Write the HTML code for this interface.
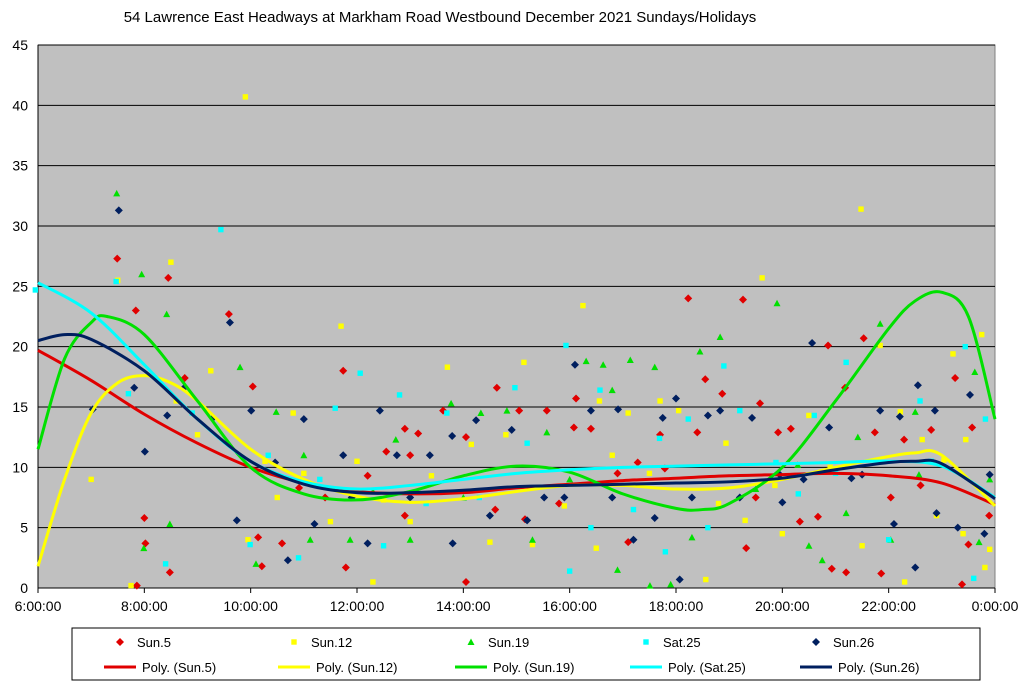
<!DOCTYPE html>
<html><head><meta charset="utf-8"><style>
body{margin:0;background:#fff;font-family:"Liberation Sans",Arial,sans-serif}
svg{display:block}
</style></head><body>
<svg id="chart" width="1024" height="686" viewBox="0 0 1024 686">
<text x="440" y="22" text-anchor="middle" font-size="15">54 Lawrence East Headways at Markham Road Westbound December 2021  Sundays/Holidays</text>
<rect x="38" y="45" width="957" height="543" fill="#c0c0c0" stroke="#808080"/>
<g id="grid"></g><g id="axes"></g><g id="points"></g><g id="lines"></g>
<rect x="72" y="628" width="908" height="52" fill="#fff" stroke="#000"/>
<g id="legend"></g>
</svg>
<script>
const yTicks=[0,5,10,15,20,25,30,35,40,45];
const xTicks=[6,8,10,12,14,16,18,20,22,24];
const xTickLabels=["6:00:00","8:00:00","10:00:00","12:00:00","14:00:00","16:00:00","18:00:00","20:00:00","22:00:00","0:00:00"];
const seriesNames=["Sun.5","Sun.12","Sun.19","Sat.25","Sun.26"];
const sun5=[[7.49,27.3],[7.84,23],[8.0,5.8],[8.02,3.7],[7.86,0.2],[8.45,25.7],[8.48,1.3],[8.76,17.4],[9.59,22.7],[10.04,16.7],[10.14,4.2],[10.21,1.8],[10.59,3.7],[10.91,8.3],[11.74,18],[11.79,1.7],[12.55,11.3],[12.9,13.2],[13.15,12.8],[13.62,14.7],[14.05,12.5],[14.05,0.5],[14.63,16.6],[15.05,14.7],[15.16,5.7],[15.57,14.7],[16.08,13.3],[16.12,15.7],[16.4,13.2],[17.28,10.4],[17.7,12.7],[17.79,9.9],[18.23,24],[18.4,12.9],[18.55,17.3],[18.87,16.1],[19.26,23.9],[19.32,3.3],[19.58,15.3],[19.92,12.9],[20.16,13.2],[20.33,5.5],[20.67,5.9],[20.86,20.1],[20.93,1.6],[21.18,16.6],[21.2,1.3],[21.53,20.7],[21.74,12.9],[21.86,1.2],[22.04,7.5],[22.29,12.3],[22.8,13.1],[23.25,17.4],[23.38,0.3],[23.57,13.3],[23.89,6.0],[12.2,9.3],[13.0,11],[16.9,9.5],[17.1,3.8],[15.8,7],[11.4,7.5],[12.9,6],[14.6,6.5],[19.5,7.5],[22.6,8.5],[23.5,3.6]];
const sun12=[[7.0,9],[7.5,25.5],[7.75,0.2],[8.5,27],[9.25,18],[9.9,40.7],[9.95,4],[10.27,10.5],[11.7,21.7],[12.3,0.5],[13.4,9.3],[13.7,18.3],[14.15,11.9],[15.14,18.7],[16.25,23.4],[16.56,15.5],[17.7,15.5],[18.05,14.7],[18.56,0.7],[18.94,12.0],[19.62,25.7],[19.86,8.5],[20.5,14.3],[21.48,31.4],[21.84,20.1],[22.22,14.6],[22.63,12.3],[23.04,10.6],[23.21,19.4],[23.45,12.3],[23.75,21],[23.81,1.7],[8.6,15.5],[9.0,12.7],[10.5,7.5],[11.0,9.5],[11.5,5.5],[12.5,7.3],[13.0,5.5],[14.5,3.8],[15.3,3.6],[15.9,6.8],[16.5,3.3],[17.1,14.5],[17.5,9.5],[18.8,7],[19.3,5.6],[20.0,4.5],[20.9,10],[21.5,3.5],[22.3,0.5],[22.9,6],[23.4,4.5],[23.9,3.2],[10.8,14.5],[12.0,10.5],[14.8,12.7],[16.8,11]];
const sun19=[[7.48,32.7],[7.95,26],[7.99,3.3],[8.42,22.7],[8.48,5.3],[9.8,18.3],[10.48,14.6],[11.12,4],[11.87,4],[12.73,12.3],[13.77,15.3],[14.33,14.5],[14.82,14.7],[15.57,12.9],[16.31,18.8],[16.63,18.5],[16.8,16.4],[17.14,18.9],[17.6,18.3],[17.51,0.2],[18.45,19.6],[18.83,20.8],[19.9,23.6],[20.29,10.2],[20.75,2.3],[21.42,12.5],[21.84,21.9],[22.04,4],[22.57,9.4],[23.62,17.9],[23.7,3.8],[10.1,2],[11.0,11],[12.3,8],[13.0,4],[14.0,7.5],[15.3,4],[16.0,9],[16.9,1.5],[17.9,0.3],[18.3,4.2],[19.5,8.2],[20.5,3.5],[21.2,6.2],[22.5,14.6],[23.9,9]];
const sat25=[[5.95,24.7],[7.47,25.4],[7.7,16.1],[9.44,29.7],[9.99,3.6],[10.33,11],[11.59,14.9],[12.06,17.8],[12.8,16],[13.69,14.5],[14.97,16.6],[15.93,20.1],[16.57,16.4],[17.69,12.4],[18.23,14],[18.9,18.4],[19.88,10.4],[20.6,14.3],[21.2,18.7],[22.59,15.5],[23.44,20],[23.82,14],[8.4,2],[8.9,14.5],[10.9,2.5],[11.3,9],[12.5,3.5],[13.3,7],[14.3,7.5],[15.2,12],[16.0,1.4],[16.4,5],[17.2,6.5],[17.8,3],[18.6,5],[19.2,14.7],[20.3,7.8],[21.0,9.5],[22.0,4],[22.8,10.5],[23.6,0.8]];
const sun26=[[7.03,14.8],[7.52,31.3],[7.81,16.6],[8.01,11.3],[8.43,14.3],[8.75,16.6],[9.29,14.1],[9.61,22],[9.74,5.6],[10.01,14.7],[10.46,10.4],[11.0,14],[11.74,11.0],[12.43,14.7],[12.75,11.0],[13.37,11.0],[13.79,12.6],[14.24,13.9],[14.91,13.1],[15.52,7.5],[16.1,18.5],[16.4,14.7],[16.91,14.8],[17.75,14.1],[18.07,0.7],[18.6,14.3],[18.83,14.7],[19.43,14.1],[19.95,9.4],[20.56,20.3],[20.88,13.3],[21.84,14.7],[22.21,14.2],[22.55,16.8],[22.87,14.7],[23.53,16],[23.9,9.4],[10.7,2.3],[11.2,5.3],[11.9,7.5],[12.2,3.7],[13.0,7.5],[13.8,3.7],[14.5,6],[15.2,5.6],[15.9,7.5],[16.8,7.5],[17.2,4],[17.6,5.8],[18.0,15.7],[18.3,7.5],[19.2,7.5],[20.0,7.1],[20.4,9],[21.3,9.1],[21.5,9.4],[22.1,5.3],[22.5,1.7],[22.9,6.2],[23.3,5],[23.8,4.5]];
const trend5=[[6,19.7],[7,17.2],[8,14.4],[9,12.0],[10,10.0],[11,8.7],[12,8.0],[13,7.8],[14,7.9],[15,8.3],[16,8.6],[17,8.9],[18,9.1],[19,9.3],[20,9.4],[21,9.5],[22,9.3],[23,8.7],[24,6.9]];
const trend12=[[6,1.8],[6.5,9],[7,14.5],[7.5,17],[8,17.6],[8.5,17],[9,15.5],[10,11.5],[11,9],[12,7.6],[13,7.1],[14,7.4],[15,8.0],[16,8.5],[17,8.5],[18,8.2],[19,8.3],[20,9],[21,10],[22,10.9],[22.5,11.2],[23,11],[24,6.8]];
const trend19=[[6,11.5],[6.5,19],[7,22],[7.3,22.5],[8,21],[9,15.5],[10,10],[11,7.8],[12,7.3],[13,8.0],[14,9.3],[15,10.1],[16,9.6],[17,7.8],[18,6.6],[18.5,6.5],[19,7],[20,10],[21,15.5],[22,21.5],[22.5,23.8],[23,24.5],[23.5,22.5],[24,14]];
const trend25=[[6,25.3],[7,22.8],[8,18.5],[9,14],[10,10.5],[11,8.8],[12,8.2],[13,8.5],[14,9.0],[15,9.5],[16,9.8],[17,10.0],[18,10.1],[19,10.2],[20,10.3],[21,10.4],[22,10.5],[23,10.1],[24,7.5]];
const trend26=[[6,20.5],[6.5,21],[7,20.6],[8,18],[9,14],[10,10.5],[11,8.6],[12,7.9],[13,7.9],[14,8.1],[15,8.4],[16,8.5],[17,8.6],[18,8.7],[19,8.8],[20,9.1],[21,9.8],[22,10.4],[22.5,10.5],[23,10.3],[24,7.4]];

const NS="http://www.w3.org/2000/svg";
const X=h=>38+(h-6)*(957/18);
const Y=v=>588-v*(543/45);
function mk(tag,attrs,parent){const e=document.createElementNS(NS,tag);for(const k in attrs)e.setAttribute(k,attrs[k]);parent.appendChild(e);return e;}
const grid=document.getElementById('grid'),axes=document.getElementById('axes');
yTicks.forEach(v=>{
  if(v>0){const l=mk('line',{x1:38,x2:995,y1:Y(v),y2:Y(v),stroke:'#000','stroke-width':1},grid);
  
  }
  const t=mk('text',{x:28,y:Y(v)+5,'text-anchor':'end','font-size':14},axes);t.textContent=v;
  
  
});
xTicks.forEach((h,i)=>{
  mk('line',{x1:X(h),x2:X(h),y1:588,y2:593,stroke:'#000'},axes);
  const t=mk('text',{x:X(h),y:611,'text-anchor':'middle','font-size':14},axes);t.textContent=xTickLabels[i];
  
  
});
mk('line',{x1:38,x2:995,y1:588,y2:588,stroke:'#000'},axes);
mk('line',{x1:38,x2:38,y1:45,y2:588,stroke:'#000'},axes);
const colors=["#e00000","#ffff00","#00e000","#00ffff","#001f5f"];
const lineColors=["#e00000","#ffff00","#00e000","#00ffff","#001f5f"];
const shapes=["diamond","square","triangle","square","diamond"];
function marker(shape,x,y,c,parent){
  if(shape==="diamond")return mk('path',{d:`M${x} ${y-4}L${x+4} ${y}L${x} ${y+4}L${x-4} ${y}Z`,fill:c},parent);
  if(shape==="square")return mk('rect',{x:x-2.7,y:y-2.7,width:5.4,height:5.4,fill:c},parent);
  return mk('path',{d:`M${x} ${y-3.5}L${x+3.5} ${y+3}L${x-3.5} ${y+3}Z`,fill:c},parent);
}
const pts=document.getElementById('points');
[sun5,sun12,sun19,sat25,sun26].forEach((s,i)=>{
  s.forEach(p=>{const m=marker(shapes[i],X(p[0]),Y(p[1]),colors[i],pts);
    
    });
});
function smooth(arr){
  const P=arr.map(p=>[X(p[0]),Y(p[1])]);let d=`M${P[0][0]} ${P[0][1]}`;
  for(let i=0;i<P.length-1;i++){const p0=P[Math.max(0,i-1)],p1=P[i],p2=P[i+1],p3=P[Math.min(P.length-1,i+2)];
    d+=`C${p1[0]+(p2[0]-p0[0])/6} ${p1[1]+(p2[1]-p0[1])/6} ${p2[0]-(p3[0]-p1[0])/6} ${p2[1]-(p3[1]-p1[1])/6} ${p2[0]} ${p2[1]}`;}
  return d;
}
const lines=document.getElementById('lines');
[trend5,trend12,trend19,trend25,trend26].forEach((t,i)=>{
  const p=mk('path',{d:smooth(t),fill:'none',stroke:lineColors[i],'stroke-width':3},lines);
  
  
});
const lg=document.getElementById('legend');
const lx=[120,294,471,646,816];
seriesNames.forEach((n,i)=>{
  const m=marker(shapes[i],lx[i],642,colors[i],lg);
  
  
  const t=mk('text',{x:lx[i]+17,y:647,'font-size':13},lg);t.textContent=n;
  
  
  const l=mk('line',{x1:lx[i]-16,x2:lx[i]+16,y1:667,y2:667,stroke:lineColors[i],'stroke-width':3},lg);
  
  
  const t2=mk('text',{x:lx[i]+22,y:672,'font-size':13},lg);t2.textContent='Poly. ('+n+')';
  
  
});
</script>
</body></html>
